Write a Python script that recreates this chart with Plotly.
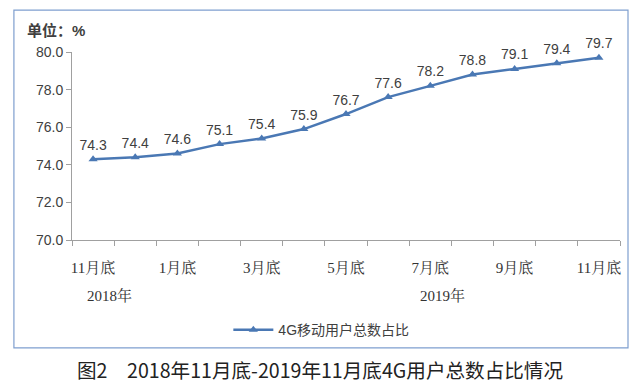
import plotly.graph_objects as go

months = ["11月底", "12月底", "1月底", "2月底", "3月底", "4月底", "5月底",
          "6月底", "7月底", "8月底", "9月底", "10月底", "11月底"]
values = [74.3, 74.4, 74.6, 75.1, 75.4, 75.9, 76.7, 77.6, 78.2, 78.8, 79.1, 79.4, 79.7]
series_name = "4G移动用户总数占比"
y_ticks = [70, 72, 74, 76, 78, 80]

x_idx = list(range(len(months)))
shown_idx = x_idx[::2]
shown_labels = [months[i] for i in shown_idx]

color = "#4a78b4"
serif = "Liberation Serif, Noto Serif CJK SC, Noto Sans CJK SC, serif"
sans = "Liberation Sans, Noto Sans CJK SC, sans-serif"

fig = go.Figure()
fig.add_trace(go.Scatter(
    x=x_idx, y=values, mode="lines+markers+text", name=series_name,
    line=dict(color=color, width=2.5),
    marker=dict(symbol="triangle-up", size=8, color=color),
    text=[f"{v:.1f}" for v in values], textposition="top center",
    textfont=dict(family=sans, size=14, color="#404040"),
    cliponaxis=False,
))
fig.add_trace(go.Scatter(x=[0], y=[None], xaxis="x2", showlegend=False, hoverinfo="skip"))

rng = [-0.5, len(months) - 0.5]
fig.update_layout(
    width=633, height=383,
    margin=dict(l=64, r=21, t=44, b=151, autoexpand=False),
    paper_bgcolor="white", plot_bgcolor="white",
    showlegend=True,
    legend=dict(orientation="h", x=0.455, xanchor="center",
                yref="container", y=0.159, yanchor="middle",
                font=dict(family=sans, size=14, color="#404040"),
                itemwidth=40),
    xaxis=dict(range=rng, tickmode="array",
               tickvals=[i - 0.5 for i in range(len(months) + 1)],
               ticktext=[""] * (len(months) + 1),
               ticks="outside", ticklen=5, tickcolor="#a0a0a0",
               showline=True, linecolor="#a0a0a0", linewidth=1,
               showgrid=False, zeroline=False, automargin=False),
    xaxis2=dict(range=rng, overlaying="x", side="bottom", tickmode="array",
                tickvals=shown_idx, ticktext=shown_labels, ticks="",
                showline=False, showgrid=False, zeroline=False, automargin=False,
                tickfont=dict(family=serif, size=15, color="#333333"),
                ticklabelstandoff=17),
    yaxis=dict(range=[70, 80], tickmode="array", tickvals=y_ticks,
               tickformat=".1f", ticks="outside", ticklen=5, tickcolor="#a0a0a0",
               showline=True, linecolor="#a0a0a0", linewidth=1,
               showgrid=False, zeroline=False, automargin=False,
               tickfont=dict(family=sans, size=14, color="#404040")),
)

fig.add_shape(type="rect", xref="paper", yref="paper",
              x0=-0.106, x1=1.0146, y0=-0.574, y1=1.223,
              line=dict(color="#7f9fcf", width=1.2))

fig.add_annotation(text="<b>单位：%</b>", xref="paper", yref="paper",
                   x=-0.086, y=1.117, xanchor="left", yanchor="middle", showarrow=False,
                   font=dict(family=sans, size=15, color="#404040"))
fig.add_annotation(text="2018年", xref="x", yref="paper", x=0.4, y=-0.293,
                   yanchor="middle", showarrow=False,
                   font=dict(family=serif, size=15, color="#333333"))
fig.add_annotation(text="2019年", xref="x", yref="paper", x=8.3, y=-0.293,
                   yanchor="middle", showarrow=False,
                   font=dict(family=serif, size=15, color="#333333"))
fig.add_annotation(text="图2　2018年11月底-2019年11月底4G用户总数占比情况",
                   xref="paper", yref="paper", x=0.4526, y=-0.69, yanchor="middle",
                   showarrow=False,
                   font=dict(family="Noto Sans CJK SC, sans-serif", size=19.6, color="#222222"))

fig.write_html("out.html")
